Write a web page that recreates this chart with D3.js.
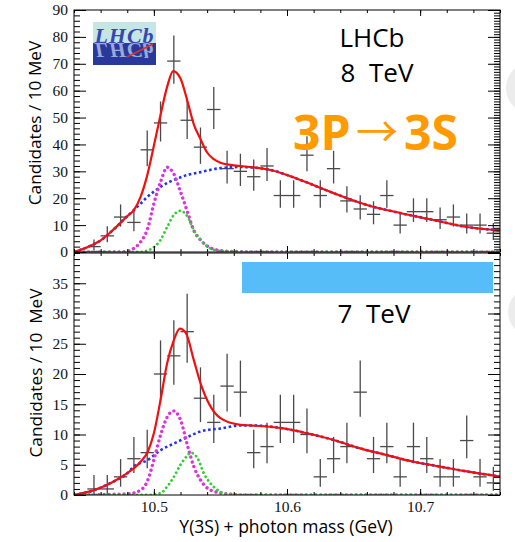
<!DOCTYPE html>
<html>
<head>
<meta charset="utf-8">
<script src="https://cdn.jsdelivr.net/npm/d3@7"></script>
<style>
  body { margin: 0; background: #fff; }
  svg { display: block; }
</style>
</head>
<body>
<script>
// bin centres, 10 MeV bins
var binCenters = [10.455, 10.465, 10.475, 10.485, 10.495, 10.505, 10.515, 10.525, 10.535, 10.545,
  10.555, 10.565, 10.575, 10.585, 10.595, 10.605, 10.615, 10.625, 10.635, 10.645,
  10.655, 10.665, 10.675, 10.685, 10.695, 10.705, 10.715, 10.725, 10.735, 10.745, 10.755];

var counts8 = [2, 6, 13, 11, 38, 48, 71, 49, 39, 53, 31, 30, 28, 32, 21, 21, 36, 21, 31, 19,
  16, 14, 21, 10, 15, 15, 12, 13, 10, 10, 7];
var counts7 = [1, 1, 3, 6, 7, 20, 23, 27, 16, 12, 18, 17, 7, 8, 12, 12, 10, 3, 6, 8,
  17, 6, 8, 3, 8, 6, 3, 3, 9, 3, 2];

// fit curves, [mass, value]
var total8 = [[10.44, 0], [10.45, 1.8], [10.46, 4.3], [10.47, 8.5], [10.48, 13.3], [10.485, 15.6],
  [10.49, 20.5], [10.495, 28.5], [10.50, 39.5], [10.505, 51], [10.51, 61.5], [10.5145, 67.3],
  [10.52, 64.5], [10.525, 56.5], [10.53, 47.5], [10.535, 42], [10.54, 37], [10.545, 34.5],
  [10.55, 33.2], [10.56, 32.2], [10.575, 31.5], [10.5876, 30.5], [10.61, 26.8], [10.635, 21.9],
  [10.66, 17.5], [10.685, 14.5], [10.71, 11.9], [10.735, 9.3], [10.76, 8.1]];
var bkg8 = [[10.44, 0], [10.45, 1.8], [10.46, 4.3], [10.47, 8.5], [10.48, 13.3], [10.485, 15.6],
  [10.49, 18], [10.495, 20.4], [10.505, 24.2], [10.515, 26.8], [10.525, 28.6], [10.535, 29.7],
  [10.55, 31.2], [10.565, 31.6], [10.575, 31.4], [10.5876, 30.5], [10.61, 26.8], [10.635, 21.9],
  [10.66, 17.5], [10.685, 14.5], [10.71, 11.9], [10.735, 9.3], [10.76, 8.1]];
var peakA8 = [[10.44, 0], [10.475, 0], [10.4805, 0.3], [10.485, 1.4], [10.49, 3.7], [10.4955, 9],
  [10.50, 18], [10.505, 26], [10.51, 31.5], [10.515, 29], [10.52, 22.4], [10.5255, 14.5],
  [10.53, 8], [10.535, 4.5], [10.54, 2.2], [10.548, 0.7], [10.56, 0.2], [10.58, 0], [10.76, 0]];
var peakB8 = [[10.44, 0], [10.49, 0], [10.495, 0.5], [10.50, 1.8], [10.505, 4.5], [10.51, 9.3],
  [10.515, 13.8], [10.52, 15.3], [10.5255, 13], [10.53, 8.2], [10.535, 4.5], [10.54, 2.2],
  [10.545, 0.8], [10.555, 0.2], [10.57, 0], [10.76, 0]];

var total7 = [[10.44, 0], [10.455, 0.8], [10.4677, 2], [10.48, 3.6], [10.49, 5.5], [10.4955, 7.2],
  [10.50, 10.2], [10.505, 15.7], [10.51, 21.8], [10.515, 25.6], [10.5195, 27.5], [10.524, 26.8],
  [10.53, 22.3], [10.535, 18.5], [10.5426, 14.6], [10.55, 12.7], [10.565, 11.6], [10.5726, 11.5],
  [10.5975, 11], [10.615, 10.2], [10.635, 9.1], [10.655, 7.7], [10.675, 6.6], [10.695, 5.5],
  [10.715, 4.7], [10.735, 3.9], [10.76, 3.05]];
var bkg7 = [[10.44, 0], [10.455, 0.8], [10.4677, 2], [10.48, 3.6], [10.485, 4.7], [10.4955, 5.8],
  [10.505, 7.4], [10.515, 8.5], [10.5255, 9.6], [10.535, 10.5], [10.55, 11], [10.565, 11.5],
  [10.5726, 11.5], [10.5975, 11], [10.615, 10.2], [10.635, 9.1], [10.655, 7.7], [10.675, 6.6],
  [10.695, 5.5], [10.715, 4.7], [10.735, 3.9], [10.76, 3.05]];
var peakA7 = [[10.44, 0], [10.4805, 0.2], [10.49, 0.8], [10.4955, 2.5], [10.50, 5.8], [10.505, 9.9],
  [10.51, 12.9], [10.515, 13.9], [10.52, 12.4], [10.5255, 8], [10.53, 4.7], [10.535, 2.5],
  [10.5426, 0.8], [10.555, 0.2], [10.57, 0], [10.76, 0]];
var peakB7 = [[10.44, 0], [10.495, 0], [10.505, 0.3], [10.51, 1.4], [10.515, 3], [10.52, 5],
  [10.5255, 6.6], [10.5276, 7], [10.533, 6], [10.5375, 3.6], [10.5426, 1.9], [10.548, 0.8],
  [10.555, 0.2], [10.57, 0], [10.76, 0]];

var xLabels = [10.5, 10.6, 10.7];
var yLabels8 = [0, 10, 20, 30, 40, 50, 60, 70, 80, 90];
var yLabels7 = [0, 5, 10, 15, 20, 25, 30, 35];

var binWidth = 0.01;

var svg = d3.select("body").append("svg")
  .attr("width", 515).attr("height", 542);

svg.append("rect").attr("width", 515).attr("height", 542).attr("fill", "#fff");

// faint shapes at the slide's right edge
svg.append("circle").attr("cx", 532).attr("cy", 88).attr("r", 26).attr("fill", "#ececec");
svg.append("circle").attr("cx", 532).attr("cy", 312).attr("r", 24).attr("fill", "#ececec");

var x = d3.scaleLinear().domain([10.44, 10.76]).range([74, 500]);
var y8 = d3.scaleLinear().domain([0, 90]).range([252, 10]);
var y7 = d3.scaleLinear().domain([0, 40]).range([495, 253]);

// Gehrels approximation of the Poisson 68% interval
function errUp(n) { return Math.sqrt(n + 0.75) + 1; }
function errLo(n) {
  if (n <= 0) return 0;
  return n - n * Math.pow(1 - 1 / (9 * n) - 1 / (3 * Math.sqrt(n)), 3);
}

function plainAxis(g, axis) {
  g.call(axis);
  g.select(".domain").remove();
  g.selectAll("line").attr("stroke", "#000").attr("stroke-width", 1);
  return g;
}

var serif = "'Liberation Serif', serif";

function drawPanel(id, y, counts, curves, yLabels, leftMinor, rightMajor, rightMinor) {
  var top = y.range()[1], bottom = y.range()[0];

  svg.append("clipPath").attr("id", id)
    .append("rect").attr("x", 74).attr("y", top)
    .attr("width", 426).attr("height", bottom - top);

  var g = svg.append("g").attr("clip-path", "url(#" + id + ")");

  // data crosses
  var pts = g.selectAll(".pt")
    .data(binCenters.map(function (c, i) { return { c: c, n: counts[i] }; }))
    .enter().append("g").attr("class", "pt")
    .attr("stroke", "#4a4a4a").attr("stroke-width", 1.3);

  pts.append("line")
    .attr("x1", function (d) { return x(d.c); })
    .attr("x2", function (d) { return x(d.c); })
    .attr("y1", function (d) { return y(d.n + errUp(d.n)); })
    .attr("y2", function (d) { return y(d.n - errLo(d.n)); });
  pts.append("line")
    .attr("x1", function (d) { return x(d.c - binWidth / 2); })
    .attr("x2", function (d) { return x(d.c + binWidth / 2); })
    .attr("y1", function (d) { return y(d.n); })
    .attr("y2", function (d) { return y(d.n); });

  var line = d3.line()
    .x(function (d) { return x(d[0]); })
    .y(function (d) { return y(d[1]); })
    .curve(d3.curveMonotoneX);

  g.append("path").attr("d", line(curves.bkg)).attr("fill", "none")
    .attr("stroke", "#2233ee").attr("stroke-width", 2.6).attr("stroke-dasharray", "2.6,2.6");
  g.append("path").attr("d", line(curves.a)).attr("fill", "none")
    .attr("stroke", "#dd33dd").attr("stroke-width", 3.4).attr("stroke-linecap", "round")
    .attr("stroke-dasharray", "0.01,5");
  g.append("path").attr("d", line(curves.b)).attr("fill", "none")
    .attr("stroke", "#33cc33").attr("stroke-width", 2.8).attr("stroke-linecap", "round")
    .attr("stroke-dasharray", "0.01,4.5");
  g.append("path").attr("d", line(curves.total)).attr("fill", "none")
    .attr("stroke", "#f01010").attr("stroke-width", 2.2);

  // frame
  svg.append("rect").attr("x", 74).attr("y", top).attr("width", 426).attr("height", bottom - top)
    .attr("fill", "none").attr("stroke", "#000").attr("stroke-width", 1);

  // left axis
  var left = plainAxis(svg.append("g").attr("transform", "translate(74,0)"),
    d3.axisLeft(y).tickValues(yLabels).tickSizeInner(-12).tickSizeOuter(0).tickPadding(6)
      .tickFormat(d3.format("d")));
  left.selectAll("text").attr("font-family", serif)
    .attr("font-size", 15.5).attr("fill", "#111");
  plainAxis(svg.append("g").attr("transform", "translate(74,0)"),
    d3.axisLeft(y).ticks(leftMinor).tickSizeInner(-6).tickSizeOuter(0).tickFormat(""));

  // right axis
  plainAxis(svg.append("g").attr("transform", "translate(500,0)"),
    d3.axisRight(y).ticks(rightMajor).tickSizeInner(-12).tickSizeOuter(0).tickFormat(""));
  plainAxis(svg.append("g").attr("transform", "translate(500,0)"),
    d3.axisRight(y).ticks(rightMinor).tickSizeInner(-6).tickSizeOuter(0).tickFormat(""));

  // top and bottom ticks
  plainAxis(svg.append("g").attr("transform", "translate(0," + top + ")"),
    d3.axisTop(x).tickValues(xLabels).tickSizeInner(-6).tickSizeOuter(0).tickFormat(""));
  plainAxis(svg.append("g").attr("transform", "translate(0," + top + ")"),
    d3.axisTop(x).ticks(16).tickSizeInner(-3).tickSizeOuter(0).tickFormat(""));
  var bot = plainAxis(svg.append("g").attr("transform", "translate(0," + bottom + ")"),
    d3.axisBottom(x).tickValues(xLabels).tickSizeInner(-6).tickSizeOuter(0).tickPadding(6)
      .tickFormat(d3.format(".1f")));
  plainAxis(svg.append("g").attr("transform", "translate(0," + bottom + ")"),
    d3.axisBottom(x).ticks(16).tickSizeInner(-3).tickSizeOuter(0).tickFormat(""));
  return bot;
}

var bot8 = drawPanel("clip8", y8, counts8,
  { total: total8, bkg: bkg8, a: peakA8, b: peakB8 }, yLabels8, 45, 9, 90);
bot8.selectAll("text").remove();

var bot7 = drawPanel("clip7", y7, counts7,
  { total: total7, bkg: bkg7, a: peakA7, b: peakB7 }, yLabels7, 40, 4, 40);
bot7.selectAll("text").attr("font-family", serif)
  .attr("font-size", 15.5).attr("fill", "#111");

// axis titles
var sans = "'Open Sans', sans-serif";
svg.append("text").attr("transform", "translate(41,123) rotate(-90)")
  .attr("text-anchor", "middle").attr("font-family", sans).attr("font-size", 17.2)
  .text("Candidates / 10 MeV");
svg.append("text").attr("transform", "translate(42,373) rotate(-90)")
  .attr("text-anchor", "middle").attr("font-family", sans).attr("font-size", 17.2)
  .style("white-space", "pre").text("Candidates / 10  MeV");
svg.append("text").attr("x", 286).attr("y", 533)
  .attr("text-anchor", "middle").attr("font-family", sans).attr("font-size", 17.5)
  .text("Y(3S) + photon mass (GeV)");

// labels
svg.append("text").attr("x", 372).attr("y", 47).attr("text-anchor", "middle")
  .attr("font-family", sans).attr("font-size", 26).text("LHCb");
svg.append("text").attr("x", 377).attr("y", 82).attr("text-anchor", "middle")
  .attr("font-family", sans).attr("font-size", 26).style("white-space", "pre").text("8  TeV");
svg.append("text").attr("x", 374).attr("y", 323).attr("text-anchor", "middle")
  .attr("font-family", sans).attr("font-size", 26).style("white-space", "pre").text("7  TeV");

var orange = "#ff9a00";
svg.append("text").attr("x", 293).attr("y", 150).attr("font-family", sans)
  .attr("font-weight", 700).attr("font-size", 48).attr("fill", orange).text("3P");
svg.append("text").attr("x", 377).attr("y", 147).attr("text-anchor", "middle")
  .attr("font-family", "'Noto Sans CJK JP', 'DejaVu Sans', sans-serif").attr("font-size", 42)
  .attr("fill", orange).text("\u2192");
svg.append("text").attr("x", 458).attr("y", 150).attr("text-anchor", "end").attr("font-family", sans)
  .attr("font-weight", 700).attr("font-size", 48).attr("fill", orange).text("3S");

// blue bar from the slide
svg.append("rect").attr("x", 242).attr("y", 262).attr("width", 251).attr("height", 31)
  .attr("fill", "#56bdf9");

// LHCb logo, with its mirrored copy in the dark band
var logo = svg.append("g");
logo.append("rect").attr("x", 93).attr("y", 22).attr("width", 63).attr("height", 21).attr("fill", "#c6e6e6");
logo.append("rect").attr("x", 93).attr("y", 43).attr("width", 63).attr("height", 22).attr("fill", "#28399b");
logo.append("g").attr("fill", "#3448b0")
  .append("text").attr("id", "logoText").attr("x", 124.5).attr("y", 43).attr("text-anchor", "middle")
  .attr("font-family", serif).attr("font-style", "italic").attr("font-weight", 700)
  .attr("font-size", 22).attr("letter-spacing", 1).text("LHCb");
logo.append("use").attr("href", "#logoText")
  .attr("transform", "translate(0,86) scale(1,-1)").attr("fill", "#9aa8d8");
logo.append("line").attr("x1", 127).attr("y1", 57).attr("x2", 153).attr("y2", 44)
  .attr("stroke", "#e03030").attr("stroke-width", 1.5);
</script>
</body>
</html>
